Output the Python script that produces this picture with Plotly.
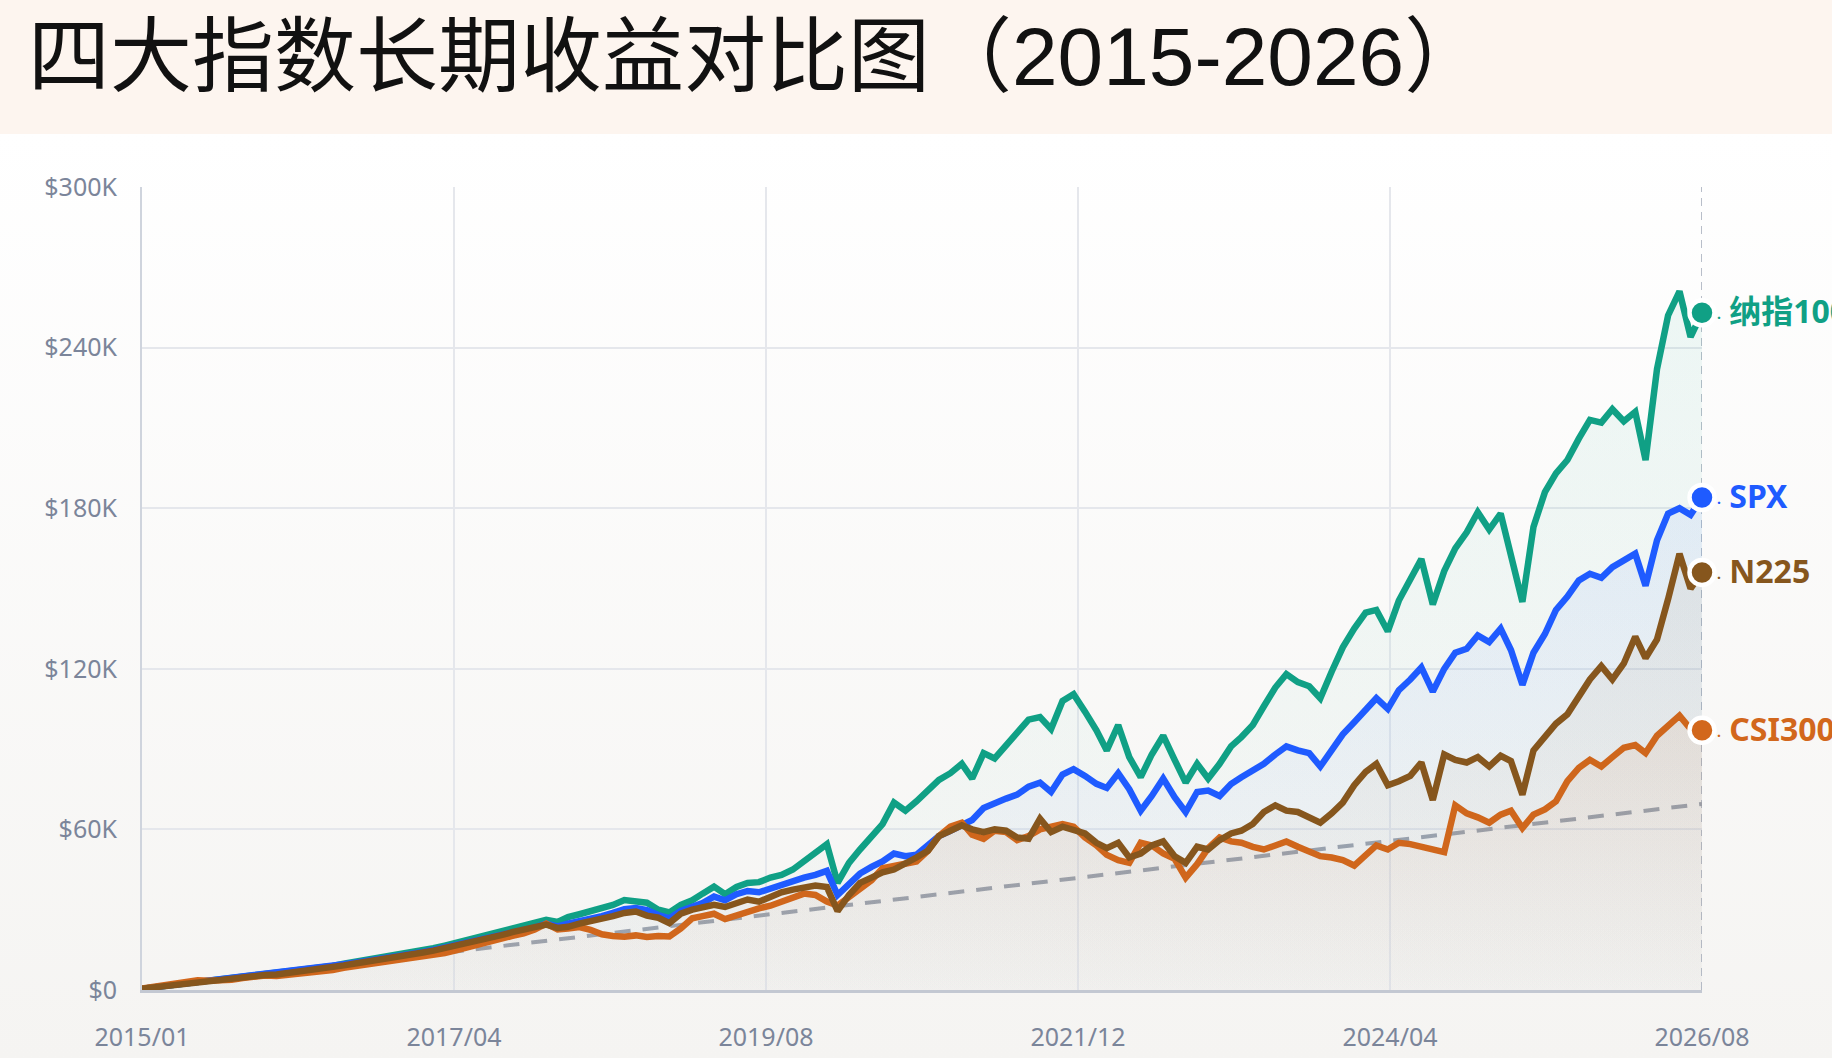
import base64
import pandas as pd
import plotly.graph_objects as go

title = "四大指数长期收益对比图（2015-2026）"

# monthly points, 2015/01 .. 2026/08
months = pd.date_range("2015-01-01", "2026-08-01", freq="MS")

# portfolio value in $K
ndx = [
    0.5, 1.0, 1.5, 2.0, 2.5, 3.0, 3.4, 3.8, 4.2, 4.9,
    5.5, 5.8, 6.1, 6.6, 7.3, 7.9, 8.5, 9.0, 9.8, 10.5,
    11.0, 11.6, 12.3, 13.0, 13.8, 14.6, 15.6, 16.6, 17.6, 18.8,
    19.8, 20.7, 21.8, 22.8, 23.6, 24.8, 26.2, 25.4, 27.2, 28.3,
    29.4, 30.8, 31.8, 33.6, 33.2, 32.6, 30.0, 29.0, 31.8, 33.5,
    36.0, 38.6, 35.8, 38.5, 40.0, 40.3, 42.0, 43.0, 45.0, 48.0,
    51.5, 54.5, 40.0, 47.5, 52.5, 57.0, 62.0, 70.0, 67.0, 70.5,
    74.5, 78.5, 81.0, 84.5, 79.0, 88.5, 86.5, 91.5, 96.0, 101.0,
    102.0, 97.5, 108.0, 110.5, 104.0, 97.0, 89.5, 99.0, 87.0, 79.5,
    88.0, 95.0, 86.0, 77.5, 84.5, 79.0, 84.5, 91.0, 94.5, 99.0,
    106.0, 113.0, 118.0, 115.0, 113.5, 109.0, 119.0, 128.0, 135.0, 141.0,
    142.0, 134.0, 145.5, 154.0, 161.0, 144.0, 156.5, 165.0, 171.0, 178.5,
    172.0, 178.0, 163.0, 145.0, 173.0, 186.0, 193.0, 198.0, 206.0, 213.0,
    212.0, 217.0, 212.5, 216.0, 198.0, 232.0, 252.0, 261.0, 244.0, 253.0,
]
spx = [
    0.5, 1.0, 1.5, 2.0, 2.5, 3.0, 3.4, 3.8, 4.2, 4.8,
    5.4, 5.8, 6.1, 6.6, 7.2, 7.8, 8.3, 8.9, 9.6, 10.2,
    10.8, 11.4, 12.0, 12.7, 13.4, 14.2, 15.0, 15.9, 16.8, 17.7,
    18.6, 19.5, 20.5, 21.4, 22.3, 23.4, 24.8, 23.8, 24.8, 25.6,
    26.6, 27.6, 28.8, 30.2, 30.6, 29.8, 28.0, 26.8, 29.5, 31.2,
    32.5, 34.9, 33.5, 35.8, 37.0, 36.5, 38.0, 39.2, 40.5, 42.0,
    43.0, 44.5, 35.5, 40.0, 43.5, 46.0, 48.0, 51.0, 50.0, 50.5,
    54.0, 57.5, 59.5, 61.5, 63.5, 68.0, 70.0, 71.5, 73.0, 76.0,
    77.5, 74.0, 80.5, 82.5, 80.0, 77.0, 75.5, 81.0, 75.0, 67.0,
    72.5, 79.0, 72.0, 66.5, 74.0, 74.5, 72.5, 77.0, 79.5, 82.0,
    84.5, 88.0, 91.0, 89.5, 88.5, 83.5, 89.5, 95.5, 100.0, 104.5,
    109.0, 105.0, 112.0, 116.0, 120.5, 111.5, 120.0, 126.0, 127.5, 132.5,
    130.0, 135.0, 127.0, 114.0, 126.0, 133.0, 142.0, 147.0, 153.0, 155.5,
    154.0, 158.0, 160.5, 163.0, 151.0, 168.0, 178.0, 180.0, 177.5, 184.0,
]
n225 = [
    0.5, 1.0, 1.5, 2.0, 2.6, 3.1, 3.5, 3.7, 4.0, 4.6,
    5.3, 5.6, 5.8, 6.3, 6.8, 7.3, 7.9, 8.4, 9.2, 9.9,
    10.5, 11.2, 11.9, 12.7, 13.4, 14.0, 14.7, 15.6, 16.6, 17.6,
    18.5, 19.5, 20.5, 21.6, 22.6, 23.8, 24.4, 23.2, 23.6, 24.8,
    25.6, 26.8, 27.6, 28.8, 29.3, 27.8, 27.0, 25.0, 28.5, 30.0,
    31.0, 31.8, 31.0, 32.5, 33.8, 33.0, 35.0, 36.5, 37.5, 38.5,
    39.0, 38.5, 29.5, 35.5, 40.0, 42.0, 44.0, 45.0, 47.0, 49.5,
    52.0, 57.5, 59.5, 61.5, 60.0, 59.0, 60.0, 59.5, 57.0, 56.5,
    64.0, 59.0, 61.0, 60.0, 58.5, 55.0, 53.0, 55.0, 49.5, 51.0,
    54.0, 55.5, 50.0, 47.5, 53.5, 52.5, 56.0, 58.5, 59.5, 62.0,
    66.5, 69.0, 67.0, 66.5, 64.5, 62.5, 66.0, 70.0, 76.5, 81.5,
    84.5, 76.5, 78.0, 80.0, 85.0, 71.0, 88.0, 86.0, 85.0, 87.0,
    83.5, 87.5, 85.5, 73.0, 89.5, 94.5, 99.5, 103.0, 109.5, 116.0,
    121.0, 116.0, 122.0, 132.0, 124.0, 131.0, 146.0, 163.0, 150.0, 156.0,
]
csi300 = [
    0.5, 1.1, 1.7, 2.4, 3.0, 3.6, 3.5, 3.4, 3.8, 4.5,
    5.0, 5.4, 5.2, 5.6, 6.1, 6.6, 7.0, 7.5, 8.3, 8.9,
    9.4, 10.0, 10.6, 11.2, 12.0, 12.6, 13.2, 13.8, 14.8, 16.0,
    17.0, 18.0, 19.2, 20.2, 21.2, 22.6, 24.8, 22.6, 23.0, 23.5,
    22.5, 20.8, 20.2, 19.9, 20.4, 19.8, 20.2, 20.0, 23.0, 26.8,
    27.6, 28.5, 26.5, 28.0, 29.6, 30.5, 31.5, 33.0, 34.5, 36.0,
    35.5, 33.0, 31.5, 34.5, 38.0, 41.0, 45.5, 46.5, 47.0, 48.0,
    52.0, 57.5, 61.0, 62.5, 58.0, 56.5, 59.5, 59.0, 56.0, 57.5,
    60.0, 61.0, 62.0, 61.0, 57.0, 54.0, 50.5, 48.5, 47.5, 55.0,
    54.0, 51.0, 49.0, 42.0, 47.0, 53.0, 57.0, 55.5, 55.0, 53.5,
    52.5, 54.0, 55.5, 53.5, 51.5, 50.0, 49.5, 48.5, 46.5, 50.5,
    54.0, 52.5, 55.0, 54.5, 53.5, 52.5, 51.5, 69.0, 66.0, 64.5,
    62.5, 65.5, 67.0, 60.5, 65.5, 67.5, 70.5, 78.0, 83.0, 86.0,
    83.5, 87.0, 90.5, 91.5, 88.5, 95.0, 99.0, 102.5, 97.5, 97.0,
]

# cumulative amount invested ($500 / month)
invest_dates = ["2015-01-01", "2026-08-01"]
invest_vals = [0.5, 69.5]

names = ["纳指100", "SPX", "CSI300", "N225"]
values = [ndx, spx, csi300, n225]
colors = ["#10a085", "#1f5bff", "#d2671c", "#86561d"]
rgb = ["16,160,133", "31,91,255", "210,103,28", "134,86,29"]
top_alpha = [0.07, 0.07, 0.085, 0.07]

tick_dates = ["2015-01-01", "2017-04-26", "2019-08-20", "2021-12-13", "2024-04-07", "2026-08-01"]
tick_text = ["2015/01", "2017/04", "2019/08", "2021/12", "2024/04", "2026/08"]
y_ticks = [0, 60, 120, 180, 240, 300]
y_text = ["$0", "$60K", "$120K", "$180K", "$240K", "$300K"]

fig = go.Figure()

fig.add_trace(go.Scatter(x=invest_dates, y=invest_vals, mode="lines",
                         line=dict(color="#a0a6b1", width=4, dash="16px,12px"),
                         hoverinfo="skip", showlegend=False))

for name, vals, col, c, a in zip(names, values, colors, rgb, top_alpha):
    fig.add_trace(go.Scatter(
        x=months, y=vals, name=name, mode="lines",
        line=dict(color=col, width=6.5),
        fill="tozeroy",
        fillgradient=dict(type="vertical",
                          colorscale=[[0, f"rgba({c},0.01)"], [1, f"rgba({c},{a})"]]),
        showlegend=False))

# end markers + labels
for name, vals, col in zip(names, values, colors):
    fig.add_trace(go.Scatter(x=[months[-1]], y=[vals[-1]], mode="markers",
                             marker=dict(color=col, size=25, line=dict(color="white", width=4.5)),
                             cliponaxis=False, showlegend=False, hoverinfo="skip"))
    fig.add_annotation(x=months[-1], y=vals[-1], xref="x", yref="y",
                       text="<span style='font-size:14px'>·</span> " + name,
                       showarrow=False, xanchor="left", yanchor="middle", xshift=13, yshift=2,
                       font=dict(family="Noto Sans, Noto Sans CJK SC", size=32, color=col, weight="bold"))

# dashed line at the right end
fig.add_shape(type="line", xref="x", yref="y", x0=months[-1], x1=months[-1], y0=0, y1=y_ticks[-1],
              line=dict(color="#b8bec9", width=2, dash="8px,6px"), layer="below")

svg = ('<svg xmlns="http://www.w3.org/2000/svg" width="10" height="100" preserveAspectRatio="none">'
       '<defs><linearGradient id="g" x1="0" y1="0" x2="0" y2="1">'
       '<stop offset="0" stop-color="#ffffff"/><stop offset="1" stop-color="#f5f4f2"/>'
       '</linearGradient></defs><rect width="10" height="100" fill="url(#g)"/></svg>')
bg_src = "data:image/svg+xml;base64," + base64.b64encode(svg.encode()).decode()

tick_font = dict(family="Noto Sans", size=25, color="#7b859a")

fig.update_layout(
    width=1832, height=1058,
    margin=dict(l=142, r=130, t=187, b=68),
    paper_bgcolor="#fdf5ef",
    plot_bgcolor="rgba(0,0,0,0)",
    title=dict(text=title, x=28 / 1832, xanchor="left", y=1 - 56 / 1058, yanchor="middle",
               xref="container", yref="container",
               font=dict(family="Liberation Sans, Noto Sans CJK SC", size=82, color="#111111")),
    images=[dict(source=bg_src, xref="paper", yref="paper", x=-0.0911, y=1.0660,
                 sizex=1.18, sizey=1.152, sizing="stretch", layer="below")],
    xaxis=dict(type="date", range=[months[0], months[-1]],
               tickmode="array", tickvals=tick_dates, ticktext=tick_text,
               showgrid=True, gridcolor="#e5e7ec", gridwidth=1.5,
               showline=True, linecolor="#c3c8d2", linewidth=3, zeroline=False,
               ticks="outside", ticklen=23, tickcolor="rgba(0,0,0,0)", tickfont=tick_font,
               automargin=False),
    yaxis=dict(range=[0, 300], tickmode="array", tickvals=y_ticks, ticktext=y_text,
               showgrid=True, gridcolor="#e5e7ec", gridwidth=1.5,
               showline=True, linecolor="#cfd4dd", linewidth=2, zeroline=False,
               ticks="outside", ticklen=18, tickcolor="rgba(0,0,0,0)", tickfont=tick_font,
               automargin=False),
    hovermode=False,
)

fig.write_html("out.html", config={"displayModeBar": False},
               post_script="document.body.style.margin='0';")
